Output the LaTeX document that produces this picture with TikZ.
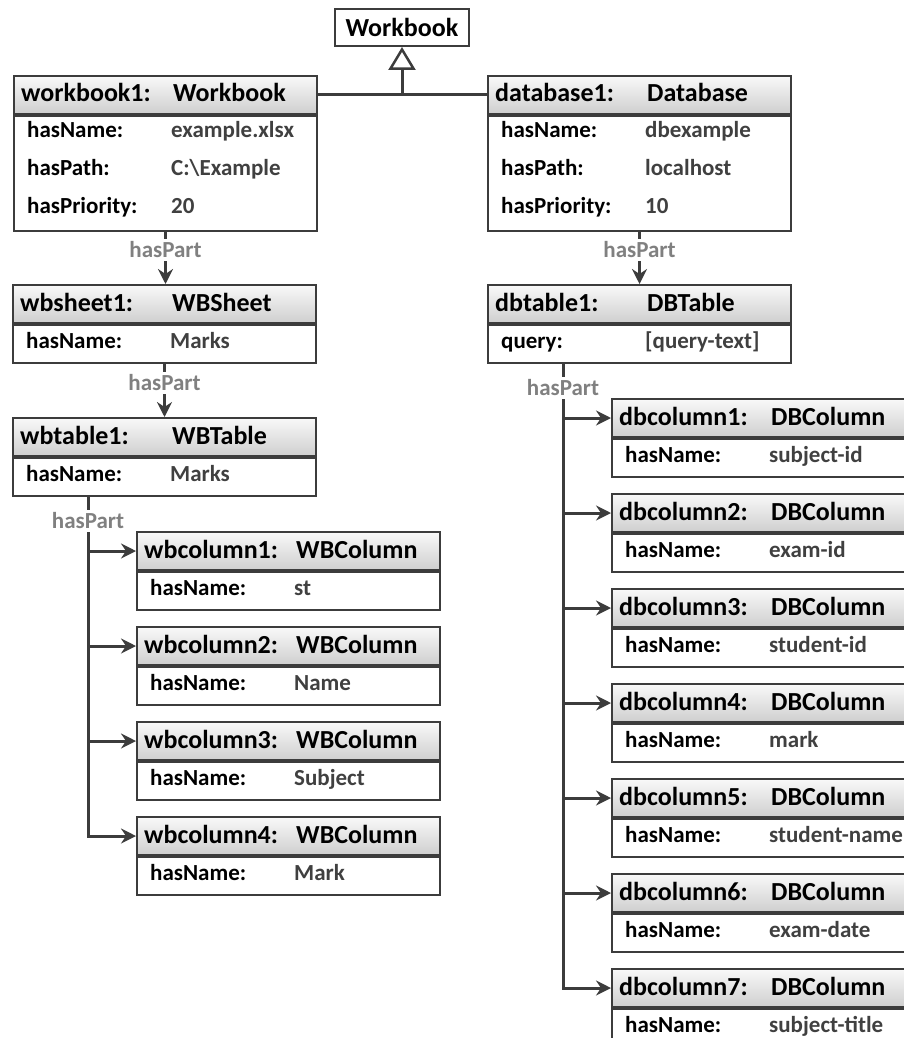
\documentclass[tikz,border=0pt]{standalone}
\usepackage{fontspec}
\setmainfont{Carlito}
\usetikzlibrary{arrows.meta,calc}

\definecolor{ink}{HTML}{3C3C3C}
\definecolor{valgray}{HTML}{404040}
\definecolor{partgray}{HTML}{808080}

\tikzset{
  hdr/.style={draw=ink, line width=2pt, top color=gray!5, bottom color=gray!38,
    minimum width=303pt, minimum height=38pt, anchor=north west, inner sep=0pt},
  bodybox/.style={draw=ink, line width=2pt, fill=white,
    minimum width=303pt, anchor=north west, inner sep=0pt},
  htxt/.style={anchor=base west, inner sep=0pt, font=\fontsize{26}{30}\selectfont\bfseries},
  ltxt/.style={anchor=base west, inner sep=0pt, font=\fontsize{23}{27}\selectfont\bfseries},
  vtxt/.style={ltxt, text=valgray},
  conn/.style={draw=ink, line width=3pt},
  partarrow/.style={conn, -{Stealth[length=15pt,width=15pt,inset=5pt]}},
  partlbl/.style={fill=white, inner xsep=1pt, inner ysep=3pt, text=partgray,
    font=\fontsize{23}{27}\selectfont\bfseries},
}

% header of an object box: id, left, top, instance name, class name
\newcommand\objhead[5]{%
  \node[hdr] (#1) at (#2,#3) {};
  \node[htxt] (#1-n) at (#2+8,#3+27) {#4};
  \node[htxt] (#1-c) at (#2+160,#3+27) {#5};
}
% body of an object box: id, header id, height
\newcommand\objbody[3]{%
  \node[bodybox, minimum height=#3pt] (#1) at (#2.south west) {};
}
% one attribute row: id, left, baseline, attribute, value
\newcommand\objrow[5]{%
  \node[ltxt] (#1-l) at (#2+14,#3) {#4};
  \node[vtxt] (#1-v) at (#2+158,#3) {#5};
}

\begin{document}
\begin{tikzpicture}[x=1pt,y=-1pt]
\useasboundingbox (0,0) rectangle (904,1038);
\clip (0,0) rectangle (904,1038);

% abstract class
\node[draw=ink, line width=2pt, fill=white, minimum width=134pt, minimum height=37pt,
  anchor=north west, inner sep=0pt, font=\fontsize{26}{30}\selectfont\bfseries]
  (wbclass) at (334,8) {Workbook};

% workbook1
\objhead{wb1}{13}{75}{workbook1:}{Workbook}
\objbody{wb1b}{wb1}{115}
\objrow{wb1r1}{13}{138}{hasName:}{example.xlsx}
\objrow{wb1r2}{13}{175.5}{hasPath:}{C:\textbackslash Example}
\objrow{wb1r3}{13}{213}{hasPriority:}{20}

% database1
\objhead{db1}{487}{75}{database1:}{Database}
\objbody{db1b}{db1}{115}
\objrow{db1r1}{487}{138}{hasName:}{dbexample}
\objrow{db1r2}{487}{175.5}{hasPath:}{localhost}
\objrow{db1r3}{487}{213}{hasPriority:}{10}

% wbsheet1
\objhead{ws1}{12}{284}{wbsheet1:}{WBSheet}
\objbody{ws1b}{ws1}{38}
\objrow{ws1r1}{12}{348}{hasName:}{Marks}

% wbtable1
\objhead{wt1}{12}{417}{wbtable1:}{WBTable}
\objbody{wt1b}{wt1}{38}
\objrow{wt1r1}{12}{481}{hasName:}{Marks}

% dbtable1
\objhead{dt1}{487}{284}{dbtable1:}{DBTable}
\objbody{dt1b}{dt1}{38}
\objrow{dt1r1}{487}{348}{query:}{[query-text]}

% workbook columns
\foreach \i/\t/\v in {1/531/st, 2/626/Name, 3/721/Subject, 4/816/Mark}{
  \objhead{wc\i}{136}{\t}{wbcolumn\i:}{WBColumn}
  \objbody{wc\i b}{wc\i}{38}
  \objrow{wc\i r}{136}{\t+64}{hasName:}{\v}
}

% database columns
\foreach \i/\t/\v in {1/398/subject-id, 2/493/exam-id, 3/588/student-id, 4/683/mark,
    5/778/student-name, 6/873/exam-date, 7/968/subject-title}{
  \objhead{dc\i}{611}{\t}{dbcolumn\i:}{DBColumn}
  \objbody{dc\i b}{dc\i}{38}
  \objrow{dc\i r}{611}{\t+64}{hasName:}{\v}
}

% generalisation
\draw[conn] (wb1.east) -- (db1.west);
\draw[conn, -{Triangle[open, length=23pt, width=27pt, line width=2.5pt]}]
  (wbclass.south |- wb1.east) -- (wbclass.south);

% hasPart: workbook1 -> wbsheet1 -> wbtable1
\draw[partarrow] (wb1b.south) -- (wb1b.south |- ws1.north);
\node[partlbl] (hp1) at ($(wb1b.south)+(0,18)$) {hasPart};
\draw[partarrow] (ws1b.south) -- (ws1b.south |- wt1.north);
\node[partlbl] (hp2) at ($(ws1b.south)+(0,19)$) {hasPart};

% hasPart: database1 -> dbtable1
\draw[partarrow] (db1b.south) -- (db1b.south |- dt1.north);
\node[partlbl] (hp3) at ($(db1b.south)+(0,18)$) {hasPart};

% hasPart: wbtable1 -> columns
\coordinate (wtx) at (88,493);
\draw[partarrow] (wt1b.south -| wtx) |- (wc4.west);
\foreach \i in {1,2,3}{
  \draw[partarrow] (wc\i.west -| wtx) -- (wc\i.west);
}
\node[partlbl] (hp4) at (88,521) {hasPart};

% hasPart: dbtable1 -> columns
\coordinate (dtx) at (563,360);
\draw[partarrow] (dt1b.south -| dtx) |- (dc7.west);
\foreach \i in {1,...,6}{
  \draw[partarrow] (dc\i.west -| dtx) -- (dc\i.west);
}
\node[partlbl] (hp5) at (563,388) {hasPart};
\end{tikzpicture}
\end{document}
